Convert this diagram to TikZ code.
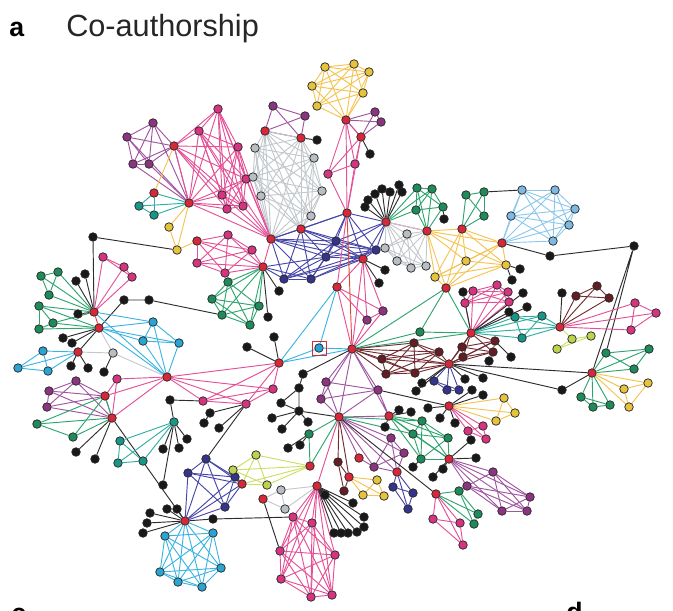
\documentclass[tikz,border=0pt]{standalone}
\usepackage{fontspec}
\setmainfont{Liberation Sans}
\usetikzlibrary{backgrounds}
\definecolor{cRed}{RGB}{214,40,57}
\definecolor{cMag}{RGB}{214,52,128}
\definecolor{cPur}{RGB}{140,52,128}
\definecolor{cGry}{RGB}{185,190,195}
\definecolor{cNav}{RGB}{52,52,140}
\definecolor{cGrn}{RGB}{30,140,90}
\definecolor{cTea}{RGB}{25,150,135}
\definecolor{cYel}{RGB}{230,195,60}
\definecolor{cLbl}{RGB}{125,185,225}
\definecolor{cCyn}{RGB}{40,165,210}
\definecolor{cBrn}{RGB}{100,30,35}
\definecolor{cLgr}{RGB}{190,210,80}
\definecolor{cBlk}{RGB}{25,25,25}
\definecolor{lM}{RGB}{228,80,150}
\definecolor{lP}{RGB}{160,85,160}
\definecolor{lG}{RGB}{195,200,205}
\definecolor{lN}{RGB}{70,70,170}
\definecolor{lE}{RGB}{45,165,110}
\definecolor{lT}{RGB}{45,175,160}
\definecolor{lY}{RGB}{245,195,80}
\definecolor{lB}{RGB}{140,200,235}
\definecolor{lC}{RGB}{60,180,225}
\definecolor{lW}{RGB}{115,45,50}
\definecolor{lL}{RGB}{205,222,100}
\definecolor{lK}{RGB}{45,45,45}
\definecolor{lR}{RGB}{225,70,60}
\tikzset{
  vtx/.style={circle,draw=black!85,line width=0.55pt,inner sep=0pt,minimum size=6.4pt},
  nR/.style={vtx,fill=cRed}, nM/.style={vtx,fill=cMag}, nP/.style={vtx,fill=cPur},
  nG/.style={vtx,fill=cGry}, nN/.style={vtx,fill=cNav}, nE/.style={vtx,fill=cGrn},
  nT/.style={vtx,fill=cTea}, nY/.style={vtx,fill=cYel}, nB/.style={vtx,fill=cLbl},
  nC/.style={vtx,fill=cCyn}, nW/.style={vtx,fill=cBrn}, nL/.style={vtx,fill=cLgr},
  nK/.style={vtx,fill=cBlk},
  eg/.style={line width=0.7pt},
  eM/.style={eg,lM}, eP/.style={eg,lP}, eG/.style={eg,lG}, eN/.style={eg,lN},
  eE/.style={eg,lE}, eT/.style={eg,lT}, eY/.style={eg,lY}, eB/.style={eg,lB},
  eC/.style={eg,lC}, eW/.style={eg,lW}, eL/.style={eg,lL}, eK/.style={eg,lK},
  eR/.style={eg,lR},
  lbl/.style={font=\bfseries\fontsize{20}{24}\selectfont,inner sep=0pt,anchor=base west},
}
\newcommand\vx[4]{\node[#1] (#2) at (#3,#4) {};}
\newcommand\clq[2]{\foreach \a [count=\i] in {#2}{\foreach \b [count=\j] in {#2}{\ifnum\j>\i\relax\draw[#1] (\a)--(\b);\fi}}}
\newcommand\hb[3]{\foreach \b in {#3}{\draw[#1] (#2)--(\b);}}
\begin{document}
\begin{tikzpicture}[x=0.75pt,y=-0.75pt]
\clip (0,0) rectangle (673,610);
\node[lbl] (la) at (9,37) {a};
\node[font=\fontsize{23}{27}\selectfont,inner sep=0pt,anchor=base west,text=black!85] (title) at (66,37) {Co-authorship};
\node[lbl] (lc) at (11,622) {c};
\node[lbl] (ld) at (566,621) {d};
% red
\vx{nR}{r1}{346}{120}\vx{nR}{r2}{361}{137}\vx{nR}{r3}{347}{213}\vx{nR}{r4}{265}{131}
\vx{nR}{r5}{301}{138}\vx{nR}{r6}{301}{229}\vx{nR}{r7}{271}{239}\vx{nR}{r8}{174}{146}
\vx{nR}{r9}{189}{203}\vx{nR}{r10}{154}{193}\vx{nR}{r11}{197}{241}\vx{nR}{r12}{263}{267}
\vx{nR}{r13}{94}{312}\vx{nR}{r14}{363}{259}\vx{nR}{r15}{337}{287}\vx{nR}{r16}{386}{222}
\vx{nR}{r17}{427}{231}\vx{nR}{r18}{462}{229}\vx{nR}{r19}{502}{243}\vx{nR}{r20}{446}{288}
\vx{nR}{r21}{471}{333}\vx{nR}{r22}{560}{327}\vx{nR}{r23}{352}{349}\vx{nR}{r24}{449}{364}
\vx{nR}{r25}{592}{373}\vx{nR}{r26}{449}{406}\vx{nR}{r27}{99}{328}\vx{nR}{r28}{78}{352}
\vx{nR}{r29}{167}{377}\vx{nR}{r30}{105}{396}\vx{nR}{r31}{112}{418}\vx{nR}{r32}{279}{363}
\vx{nR}{r33}{310}{466}\vx{nR}{r34}{242}{484}\vx{nR}{r35}{339}{417}\vx{nR}{r36}{389}{416}
\vx{nR}{r38}{449}{459}\vx{nR}{r39}{436}{494}\vx{nR}{r40}{397}{472}\vx{nR}{r41}{359}{458}
\vx{nR}{r42}{349}{477}\vx{nR}{r43}{317}{486}\vx{nR}{r44}{263}{499}\vx{nR}{r45}{185}{521}
% magenta
\vx{nM}{pk1}{355}{164}\vx{nM}{pk2}{328}{174}\vx{nM}{m1}{218}{109}\vx{nM}{m2}{199}{131}
\vx{nM}{m3}{238}{147}\vx{nM}{m4}{246}{179}\vx{nM}{m5}{222}{195}\vx{nM}{m6}{243}{206}
\vx{nM}{m7}{227}{209}\vx{nM}{m8}{228}{235}\vx{nM}{m9}{252}{250}\vx{nM}{m10}{197}{263}
\vx{nM}{m11}{225}{273}\vx{nM}{mp1}{473}{291}\vx{nM}{mp2}{497}{285}\vx{nM}{mp3}{508}{292}
\vx{nM}{mp4}{465}{303}\vx{nM}{mp5}{509}{302}\vx{nM}{mp6}{635}{303}\vx{nM}{mp7}{656}{313}
\vx{nM}{mp8}{631}{330}\vx{nM}{pk3}{103}{257}\vx{nM}{pk4}{124}{267}\vx{nM}{pk5}{132}{277}
\vx{nM}{pk6}{117}{379}\vx{nM}{pk7}{203}{401}\vx{nM}{pk8}{246}{404}\vx{nM}{pk9}{273}{389}
\vx{nM}{pk10}{468}{431}\vx{nM}{pk11}{483}{426}\vx{nM}{pk12}{486}{439}\vx{nM}{pk13}{433}{519}
\vx{nM}{pk14}{460}{523}\vx{nM}{pk15}{463}{545}\vx{nM}{pk16}{293}{517}\vx{nM}{pk17}{312}{523}
\vx{nM}{pk18}{280}{551}\vx{nM}{pk19}{335}{555}\vx{nM}{pk20}{281}{579}\vx{nM}{pk21}{311}{597}
\vx{nM}{pk22}{332}{595}
% purple
\vx{nP}{p1}{375}{112}\vx{nP}{p2}{381}{122}\vx{nP}{pu3}{273}{106}\vx{nP}{pu4}{305}{116}
\vx{nP}{q1}{127}{137}\vx{nP}{q2}{153}{123}\vx{nP}{q3}{133}{164}\vx{nP}{q4}{149}{164}
\vx{nP}{pm1}{383}{311}\vx{nP}{pm2}{367}{320}\vx{nP}{pu5}{378}{390}\vx{nP}{pu6}{76}{381}
\vx{nP}{pu7}{49}{391}\vx{nP}{pu8}{47}{407}\vx{nP}{pu9}{326}{382}\vx{nP}{pu10}{321}{399}
\vx{nP}{pu11}{493}{472}\vx{nP}{pu12}{467}{486}\vx{nP}{pu13}{530}{497}\vx{nP}{pu14}{502}{511}
\vx{nP}{pu15}{527}{511}\vx{nP}{pu16}{391}{438}\vx{nP}{pu17}{404}{453}\vx{nP}{pu18}{374}{467}
% gray
\vx{nG}{g1}{255}{148}\vx{nG}{g2}{314}{158}\vx{nG}{g3}{253}{177}\vx{nG}{g4}{322}{191}
\vx{nG}{g5}{261}{196}\vx{nG}{g6}{311}{216}\vx{nG}{g7}{407}{234}\vx{nG}{g8}{385}{248}
\vx{nG}{g9}{397}{261}\vx{nG}{g10}{411}{268}\vx{nG}{g11}{426}{266}\vx{nG}{g12}{113}{353}
\vx{nG}{g13}{281}{490}\vx{nG}{g14}{285}{509}
% navy
\vx{nN}{n1}{336}{241}\vx{nN}{n2}{326}{257}\vx{nN}{n3}{284}{279}\vx{nN}{n4}{311}{279}
\vx{nN}{n5}{376}{250}\vx{nN}{n7}{434}{381}\vx{nN}{n8}{447}{390}\vx{nN}{n9}{459}{390}
\vx{nN}{n10}{206}{459}\vx{nN}{n11}{188}{473}\vx{nN}{n12}{235}{477}\vx{nN}{n13}{225}{507}
\vx{nN}{n14}{393}{487}\vx{nN}{n15}{413}{493}\vx{nN}{n16}{408}{509}
% green
\vx{nE}{gr3}{228}{282}\vx{nE}{gr4}{212}{299}\vx{nE}{gr5}{222}{315}\vx{nE}{gr6}{259}{306}
\vx{nE}{gr7}{250}{325}\vx{nE}{gr8}{417}{188}\vx{nE}{gr9}{432}{189}\vx{nE}{gr10}{416}{210}
\vx{nE}{gr11}{443}{207}\vx{nE}{gr12}{466}{195}\vx{nE}{gr13}{484}{192}\vx{nE}{gr14}{484}{216}
\vx{nE}{gr15}{420}{332}\vx{nE}{gr16}{606}{353}\vx{nE}{gr17}{649}{349}\vx{nE}{gr18}{634}{369}
\vx{nE}{gr19}{581}{397}\vx{nE}{gr20}{593}{407}\vx{nE}{gr21}{610}{405}\vx{nE}{gr22}{41}{276}
\vx{nE}{gr23}{58}{272}\vx{nE}{gr24}{49}{295}\vx{nE}{gr25}{39}{306}\vx{nE}{gr26}{53}{323}
\vx{nE}{gr27}{39}{329}\vx{nE}{gr28}{37}{424}\vx{nE}{gr29}{73}{437}\vx{nE}{gr30}{309}{434}
\vx{nE}{gr31}{422}{421}\vx{nE}{gr32}{413}{434}\vx{nE}{gr33}{421}{459}\vx{nE}{gr34}{448}{438}
\vx{nE}{gr35}{459}{491}\vx{nE}{gr36}{478}{514}\vx{nE}{gr37}{474}{524}
% teal
\vx{nT}{gr1}{139}{206}\vx{nT}{gr2}{154}{215}\vx{nT}{tl1}{515}{317}\vx{nT}{tl2}{542}{316}
\vx{nT}{tl3}{522}{338}\vx{nT}{tl4}{174}{422}\vx{nT}{tl5}{120}{441}\vx{nT}{tl6}{118}{463}
\vx{nT}{tl7}{143}{461}
% yellow
\vx{nY}{y1}{325}{67}\vx{nY}{y2}{354}{64}\vx{nY}{y3}{369}{72}\vx{nY}{y4}{312}{86}
\vx{nY}{y5}{363}{93}\vx{nY}{y6}{317}{106}\vx{nY}{yl1}{169}{227}\vx{nY}{yl2}{177}{250}
\vx{nY}{yw1}{466}{261}\vx{nY}{yw2}{506}{265}\vx{nY}{yw3}{435}{277}\vx{nY}{yw4}{624}{389}
\vx{nY}{yw5}{648}{383}\vx{nY}{yw6}{629}{407}\vx{nY}{yw7}{504}{398}\vx{nY}{yw9}{515}{413}
\vx{nY}{yw10}{496}{421}\vx{nY}{yw11}{363}{495}\vx{nY}{yw12}{377}{480}\vx{nY}{yw13}{384}{496}
% light blue / cyan
\vx{nB}{lb1}{522}{190}\vx{nB}{lb2}{555}{190}\vx{nB}{lb3}{575}{209}\vx{nB}{lb4}{511}{216}
\vx{nB}{lb5}{569}{225}\vx{nB}{lb6}{553}{241}
\vx{nC}{cy1}{153}{322}\vx{nC}{cy2}{143}{341}\vx{nC}{cy3}{179}{343}\vx{nC}{cy4}{43}{351}
\vx{nC}{cy5}{18}{368}\vx{nC}{cy6}{48}{371}\vx{nC}{cy7}{319}{348}\vx{nC}{cy8}{165}{536}
\vx{nC}{cy9}{213}{533}\vx{nC}{cy10}{160}{572}\vx{nC}{cy11}{221}{568}\vx{nC}{cy12}{178}{582}
\vx{nC}{cy13}{202}{587}
\node[draw=cRed,line width=0.6pt,minimum size=10.5pt,inner sep=0pt] (sq) at (319,348) {};
% brown
\vx{nW}{br1}{576}{296}\vx{nW}{br2}{597}{286}\vx{nW}{br3}{609}{298}\vx{nW}{br4}{414}{343}
\vx{nW}{br5}{439}{352}\vx{nW}{br6}{382}{359}\vx{nW}{br7}{386}{374}\vx{nW}{br8}{415}{373}
\vx{nW}{br9}{462}{347}\vx{nW}{br10}{495}{341}\vx{nW}{br11}{493}{352}\vx{nW}{br12}{463}{357}
\vx{nW}{br13}{338}{462}\vx{nW}{br14}{344}{491}
% yellow-green
\vx{nL}{yg1}{572}{339}\vx{nL}{yg2}{591}{336}\vx{nL}{yg3}{557}{349}\vx{nL}{yg4}{256}{455}
\vx{nL}{yg5}{233}{470}\vx{nL}{yg6}{267}{485}
% black
\vx{nK}{k1}{370}{154}\vx{nK}{k2}{317}{140}\vx{nK}{k3}{268}{317}\vx{nK}{k4}{279}{291}
\vx{nK}{k5}{93}{237}\vx{nK}{k6}{365}{207}\vx{nK}{k7}{368}{200}\vx{nK}{k8}{375}{194}
\vx{nK}{k9}{382}{189}\vx{nK}{k10}{390}{192}\vx{nK}{k11}{399}{185}\vx{nK}{k12}{402}{192}
\vx{nK}{k13}{444}{219}\vx{nK}{k14}{385}{270}\vx{nK}{k15}{379}{283}\vx{nK}{k16}{520}{269}
\vx{nK}{k17}{512}{280}\vx{nK}{k18}{550}{256}\vx{nK}{k19}{634}{246}\vx{nK}{k20}{463}{292}
\vx{nK}{k21}{523}{293}\vx{nK}{k22}{527}{307}\vx{nK}{k23}{509}{312}\vx{nK}{k24}{562}{293}
\vx{nK}{k25}{489}{361}\vx{nK}{k26}{511}{357}\vx{nK}{k27}{465}{379}\vx{nK}{k28}{483}{378}
\vx{nK}{k29}{422}{383}\vx{nK}{k30}{416}{391}\vx{nK}{k31}{472}{390}\vx{nK}{k32}{483}{395}
\vx{nK}{k33}{562}{390}\vx{nK}{k34}{76}{281}\vx{nK}{k35}{85}{274}\vx{nK}{k36}{78}{314}
\vx{nK}{k37}{124}{300}\vx{nK}{k38}{149}{300}\vx{nK}{k39}{63}{338}\vx{nK}{k40}{72}{343}
\vx{nK}{k41}{71}{366}\vx{nK}{k42}{88}{368}\vx{nK}{k43}{104}{372}\vx{nK}{k44}{76}{452}
\vx{nK}{k45}{95}{459}\vx{nK}{k46}{170}{400}\vx{nK}{k47}{274}{337}\vx{nK}{k48}{247}{347}
\vx{nK}{k49}{210}{413}\vx{nK}{k50}{204}{423}\vx{nK}{k51}{219}{428}\vx{nK}{k52}{187}{439}
\vx{nK}{k53}{179}{448}\vx{nK}{k54}{163}{449}\vx{nK}{k55}{163}{485}\vx{nK}{k56}{303}{374}
\vx{nK}{k57}{299}{388}\vx{nK}{k58}{299}{411}\vx{nK}{k59}{281}{403}\vx{nK}{k60}{272}{418}
\vx{nK}{k61}{282}{429}\vx{nK}{k62}{308}{422}\vx{nK}{k63}{399}{410}\vx{nK}{k64}{411}{412}
\vx{nK}{k65}{385}{427}\vx{nK}{k66}{440}{418}\vx{nK}{k67}{455}{423}\vx{nK}{k68}{428}{408}
\vx{nK}{k69}{471}{440}\vx{nK}{k70}{476}{458}\vx{nK}{k71}{433}{477}\vx{nK}{k72}{443}{469}
\vx{nK}{k73}{413}{467}\vx{nK}{k74}{353}{503}\vx{nK}{k75}{364}{517}\vx{nK}{k76}{364}{527}
\vx{nK}{k77}{357}{532}\vx{nK}{k78}{348}{533}\vx{nK}{k79}{341}{533}\vx{nK}{k80}{334}{533}
\vx{nK}{k81}{325}{495}\vx{nK}{k82}{288}{448}\vx{nK}{k83}{300}{445}\vx{nK}{k84}{150}{513}
\vx{nK}{k85}{167}{509}\vx{nK}{k86}{177}{509}\vx{nK}{k87}{147}{523}\vx{nK}{k88}{143}{533}
\vx{nK}{k89}{213}{519}
\begin{scope}[on background layer]
% top clusters
\clq{eY}{y1,y2,y3,y4,y5,y6,r1}
\clq{eP}{r1,p1,p2,r2}
\clq{eM}{r1,r2,pk1,pk2,r3}
\draw[eK] (r2)--(k1);
\clq{eP}{r4,pu3,pu4,r5}
\clq{eG}{r4,r5,g1,g2,g3,g4,g5,g6,r6,r7}
\draw[eK] (r5)--(k2);
\clq{eP}{q1,q2,q3,q4,r8,r9}
\clq{eM}{r8,m1,m2,m3,m4,m5,m6,m7,r9}
\hb{eM}{r7}{m1,m2,m3,m4,m5,m6,m7,r9}
\clq{eT}{r10,gr1,gr2,r9}
\draw[eY] (r10)--(r8);
\clq{eY}{yl1,yl2,r9}
\draw[eY] (yl2)--(r11);
\draw[eK] (k5)--(yl2) (k5)--(r13);
\clq{eM}{r11,m8,m9,m10,m11,r12}
\draw[eM] (r12)--(r7);
\clq{eE}{r12,gr3,gr4,gr5,gr6,gr7}
\hb{eK}{r12}{k4,k3}
% navy
\clq{eN}{r7,r6,n1,n2,n3,n4,n5,r14}
\hb{eN}{r3}{n1,n2,r6,n5,r14,r7}
\hb{eN}{r16}{n5,r14,n1,r3,n2}
\hb{eN}{r12}{n3,n4,n2}
% hub r16
\hb{eK}{r16}{k6,k7,k8,k9,k10,k11,k12}
\clq{eE}{gr8,gr9,gr10,gr11,r17}
\hb{eE}{r16}{gr8,gr10,gr9}
\draw[eK] (gr11)--(k13);
\draw[eM] (r16)--(r17);
\clq{eG}{r16,r17,g7,g8,g9,g10,g11}
\hb{eK}{r14}{k14,k15}
\clq{eY}{r17,r18,r19,yw1,yw2,yw3,r20}
\clq{eE}{gr12,gr13,gr14,r18}
\draw[eK] (gr13)--(lb1);
\clq{eB}{lb1,lb2,lb3,lb4,lb5,lb6,r19}
\draw[eK] (r19)--(k18) (k18)--(k19) (k19)--(r25) (k19)--(gr16);
\hb{eK}{yw2}{k16,k17}
% center
\clq{eE}{r20,r23,gr15,r21}
\clq{eM}{r14,r15,pm1,pm2,r23}
\draw[eM] (r3)--(r15);
\draw[eR] (r3)--(r23);
\draw[eC] (r15)--(cy7) (r15)--(r32) (cy7)--(r23) (cy7)--(r32) (r32)--(r23);
\clq{eM}{mp1,mp2,mp3,mp4,mp5,r21}
\hb{eK}{r21}{k20,k21,k22,k23}
\clq{eT}{r21,tl1,tl2,tl3,r22}
\draw[eK] (r22)--(k24);
\clq{eW}{r22,br1,br2,br3}
\clq{eM}{r22,mp6,mp7,mp8}
\draw[eL] (r22)--(yg1) (yg1)--(yg2) (yg1)--(yg3) (yg2)--(yg3);
\clq{eW}{r23,br4,br5,br6,br7,br8,r24}
\clq{eW}{r21,br9,br10,br11,br12,r24}
\draw[eK] (br10)--(k26) (br11)--(k25);
\clq{eN}{r24,n7,n8,n9}
\hb{eK}{r24}{k27,k28,k33,r25,k29,k30}
\draw[eK] (k33)--(r25);
\clq{eE}{r25,gr16,gr17,gr18}
\clq{eE}{r25,gr19,gr20,gr21}
\clq{eY}{r25,yw4,yw5,yw6}
% lower center
\clq{eP}{r23,pu9,pu10,pu5,r35}
\hb{eP}{r35}{r36,pu16,pu17,pu18,r40,r41}
\clq{eP}{pu16,pu17,r40,pu18}
\draw[eP] (pu5)--(r36) (r23)--(r36);
\clq{eN}{r40,n14,n15,n16}
\clq{eE}{r35,gr30,r33}
\hb{eE}{r35}{gr31,gr32}
\clq{eE}{r36,gr31,gr32,gr33,gr34,r38}
\clq{eP}{r38,pu11,pu12,pu13,pu14,pu15}
\hb{eK}{r38}{k69,k70,k71,k72}
\draw[eK] (gr33)--(k73);
\clq{eE}{r39,gr35,gr36,gr37}
\clq{eM}{r39,pk13,pk14,pk15}
\draw[eK] (r39)--(r35);
\clq{eY}{r26,yw7,yw9,yw10}
\clq{eM}{r26,pk10,pk11,pk12}
\hb{eK}{r26}{k66,k67,k68,k31,k32,pu5}
\hb{eK}{r36}{k63,k64,k65}
\draw[eP] (r41)--(pu18);
\draw[eW] (r35)--(r42) (r42)--(br13) (r42)--(br14) (br13)--(br14) (r35)--(br13);
\clq{eY}{r42,yw11,yw12,yw13}
\draw[eM] (r35)--(r43);
\clq{eM}{r43,pk16,pk17,pk18,pk19,pk20,pk21,pk22}
\hb{eK}{r43}{k74,k75,k76,k77,k78,k79,k80,k81}
\draw[eG] (r43)--(g13) (g13)--(r44) (g14)--(r44) (g13)--(g14) (r43)--(g14);
\clq{eL}{r33,yg4,yg5,yg6,r34}
\hb{eK}{gr30}{k82,k83}
\clq{eN}{r34,n10,n11,n12,n13,r45}
\hb{eK}{r45}{k84,k85,k86,k87,k88,k89}
\draw[eK] (k89)--(pk16) (r44)--(pk18);
\clq{eC}{r45,cy8,cy9,cy10,cy11,cy12,cy13}
\draw[eK] (r45)--(r31);
% left
\clq{eM}{r13,pk3,pk4,pk5}
\clq{eE}{r13,gr22,gr23,gr24}
\clq{eE}{r27,gr25,gr26,gr27}
\draw[eE] (r13)--(gr25) (r13)--(gr26);
\hb{eK}{r13}{k34,k35,k36}
\draw[eR] (r13)--(r27);
\draw[eK] (r27)--(k37) (k37)--(k38) (k38)--(gr5);
\clq{eC}{cy1,cy2,cy3,r29}
\hb{eC}{r27}{cy1,cy2,cy3,r29}
\hb{eC}{r13}{cy1,r29}
\hb{eK}{r27}{k39,k40,r28}
\draw[eG] (r27)--(g12) (r28)--(g12) (g12)--(r29);
\draw[eK] (g12)--(k43);
\clq{eC}{r28,cy4,cy5,cy6}
\hb{eK}{r28}{k41,k42}
\hb{eM}{r29}{r32,pk6,pk7,pk8,pk9,r30,r31}
\clq{eM}{r32,pk7,pk8,pk9}
\hb{eK}{r32}{k47,k48}
\draw[eK] (r23)--(k56);
\clq{eP}{r30,pu6,pu7,pu8,r31}
\draw[eM] (r30)--(pk6) (r31)--(pk6);
\clq{eE}{r31,gr28,gr29,r30}
\hb{eK}{r31}{k44,k45}
\draw[eK] (k46)--(pk7);
\hb{eK}{pk8}{k49,k51,n10}
\draw[eK] (k49)--(k50);
\clq{eT}{tl4,tl5,tl6,tl7}
\hb{eK}{tl4}{k52,k53,k54,k55,k46}
\draw[eK] (k57)--(k58) (k57)--(k59) (k59)--(k58) (k58)--(k60) (k58)--(k61) (k58)--(k62) (k57)--(k56) (k58)--(r35);
\end{scope}
\end{tikzpicture}
\end{document}
